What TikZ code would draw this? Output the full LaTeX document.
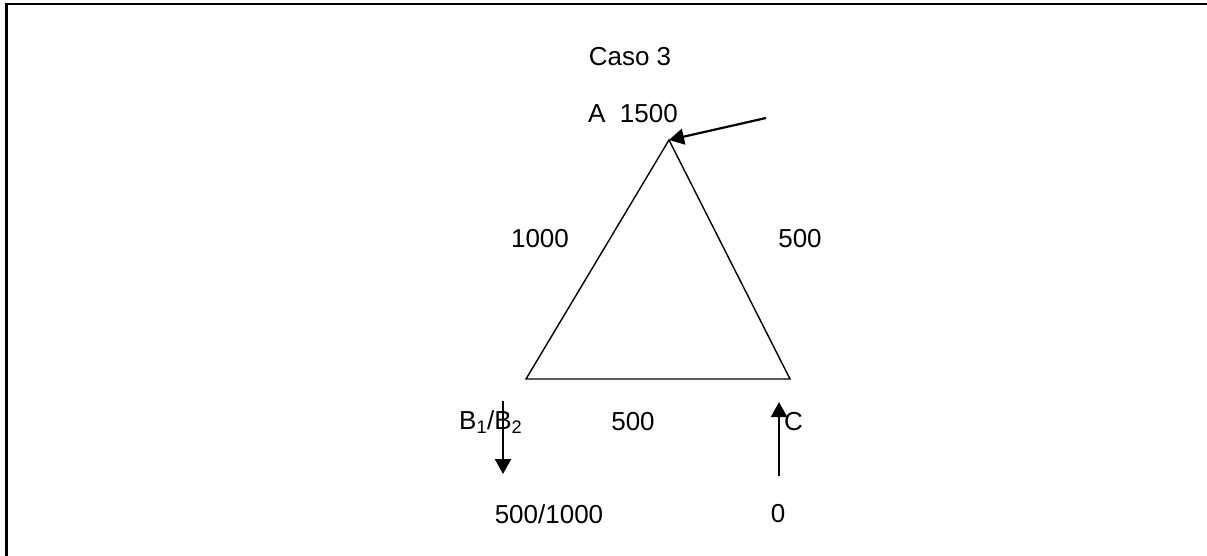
\documentclass[tikz,border=0pt]{standalone}
\usepackage{fontspec}
\setmainfont{Liberation Sans}
\usetikzlibrary{arrows.meta}
\begin{document}
\begin{tikzpicture}[x=1pt,y=-1pt,
  lbl/.style={inner sep=0pt,font=\fontsize{26}{30}\selectfont},
  edge/.style={line width=1.4pt},
  arr/.style={line width=2.2pt,-{Triangle[length=15pt,width=16pt]}},
  frame/.style={line width=2.2pt}]
\useasboundingbox (0,0) rectangle (1207,556);
% frame (top and left edges only)
\coordinate (fl) at (6.5,556);
\coordinate (ftl) at (6.5,4);
\coordinate (ftr) at (1207,4);
\draw[frame] (fl) -- (ftl) -- (ftr);
% triangle
\coordinate (A) at (669,140);
\coordinate (B) at (526,379);
\coordinate (C) at (790,379);
\draw[edge] (A) -- (B) -- (C) -- cycle;
% labels
\node[lbl] (caso) at (630,57) {Caso 3};
\node[lbl] (atxt) at (633,114) {A\ \ 1500};
\node[lbl] (l1000) at (540,239) {1000};
\node[lbl] (l500r) at (800,239) {500};
\node[lbl,anchor=west] (btxt) at (459,422) {B\textsubscript{1}/B\textsubscript{2}};
\node[lbl] (l500b) at (633,422) {500};
\node[lbl,anchor=west] (ctxt) at (784,422) {C};
\node[lbl] (l5001000) at (549,514) {500/1000};
\node[lbl] (l0) at (778,514) {0};
% arrows
\coordinate (aa) at (766,118);
\draw[arr] (aa) -- (A);
\coordinate (bs) at (503,401);
\coordinate (be) at (503,474);
\draw[arr] (bs) -- (be);
\coordinate (cs) at (779,476);
\coordinate (ce) at (779,402);
\draw[arr] (cs) -- (ce);
\end{tikzpicture}
\end{document}
